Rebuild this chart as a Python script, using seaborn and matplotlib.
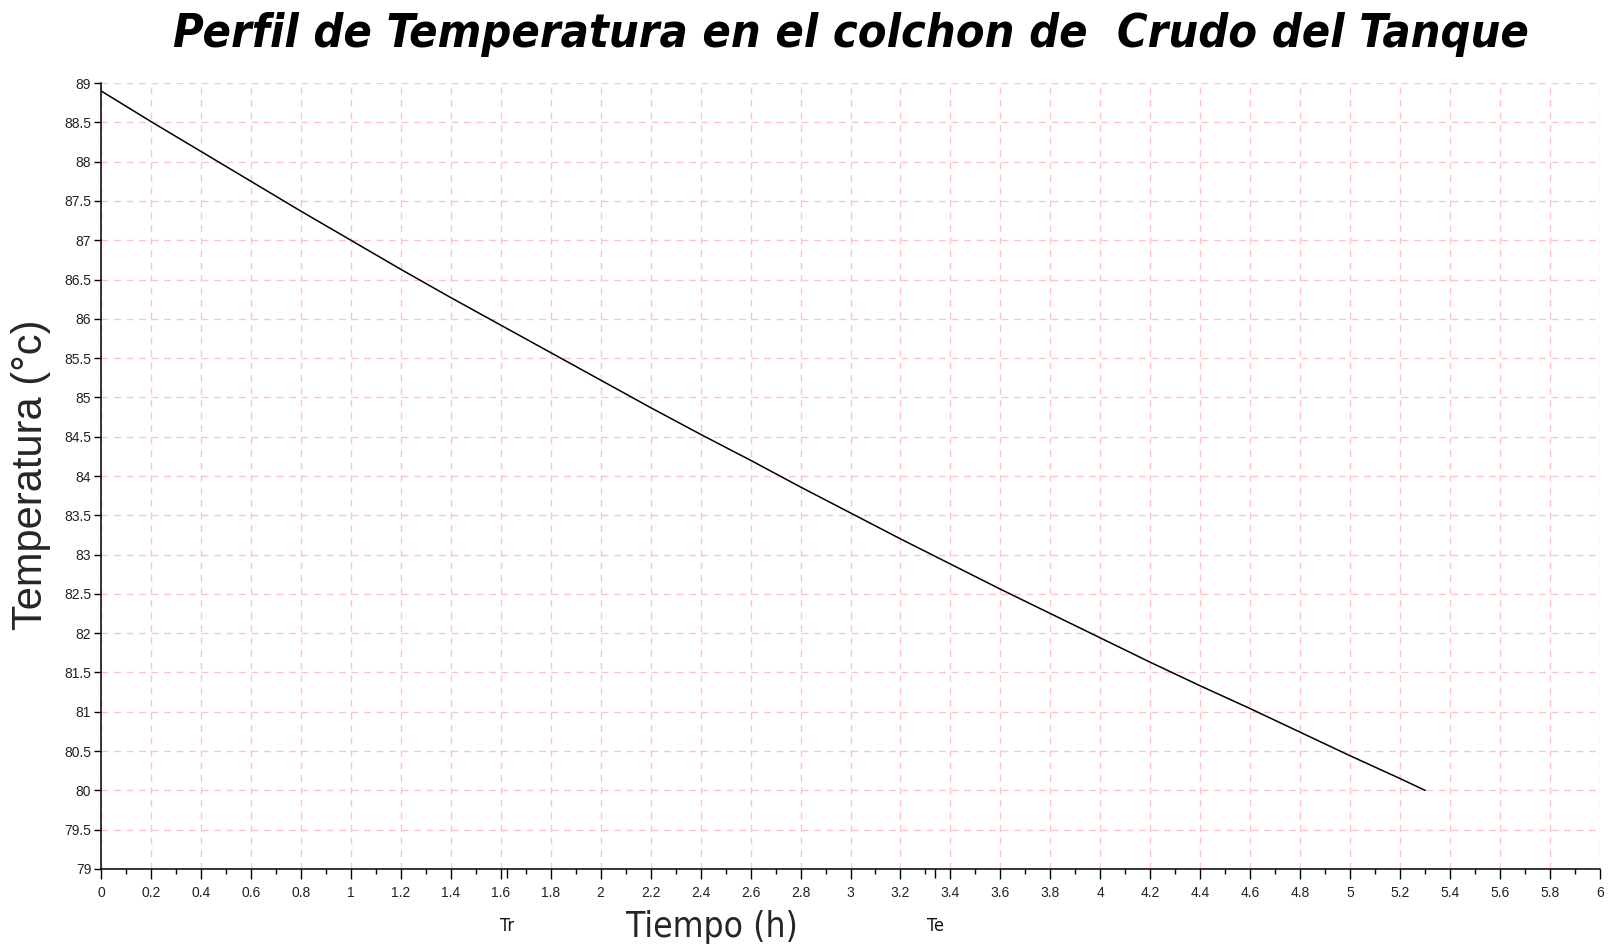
import matplotlib
matplotlib.use('Agg')
import matplotlib.pyplot as plt
from matplotlib import font_manager
from matplotlib.ticker import MultipleLocator, FormatStrFormatter
import pandas as pd
import seaborn as sns

# Data
tiempo = [0.0, 0.2, 0.4, 0.6, 0.8, 1.0, 1.2, 1.4, 1.6, 1.8, 2.0, 2.2, 2.4, 2.6,
          2.8, 3.0, 3.2, 3.4, 3.6, 3.8, 4.0, 4.2, 4.4, 4.6, 4.8, 5.0, 5.2, 5.3]
temperatura = [88.9, 88.51, 88.13, 87.75, 87.37, 87.0, 86.63, 86.27, 85.92, 85.57,
               85.22, 84.87, 84.53, 84.2, 83.86, 83.53, 83.2, 82.88, 82.56, 82.25,
               81.94, 81.63, 81.33, 81.04, 80.74, 80.44, 80.15, 80.0]
marcas_t = [1.625, 3.34]
marcas_lbl = ['Tr', 'Te']

df = pd.DataFrame({'Tiempo': tiempo, 'Temperatura': temperatura})

sns.set_style('white')
plt.rcParams['font.family'] = ['Liberation Sans', 'DejaVu Sans']

# look for a condensed face for the title / x label
fonts = font_manager.fontManager.ttflist
names = {f.name for f in fonts}
if 'Liberation Sans Narrow' in names:
    narrow, stretch, scale = 'Liberation Sans Narrow', 'normal', 1.0
elif any(f.name == 'DejaVu Sans' and f.stretch == 'condensed' for f in fonts):
    narrow, stretch, scale = 'DejaVu Sans', 'condensed', 0.82
else:
    narrow, stretch, scale = 'Liberation Sans', 'normal', 0.84

fig = plt.figure(figsize=(16.18, 9.52), dpi=100)
ax = fig.add_axes([0.0624, 0.0872, 0.9265, 0.8256])

sns.lineplot(data=df, x='Tiempo', y='Temperatura', ax=ax, color='black', linewidth=1.1, zorder=3)

ax.set_xlim(0, 6)
ax.set_ylim(79, 89)
ax.xaxis.set_major_locator(MultipleLocator(0.2))
ax.xaxis.set_minor_locator(MultipleLocator(0.1))
ax.yaxis.set_major_locator(MultipleLocator(0.5))
ax.xaxis.set_major_formatter(FormatStrFormatter('%g'))
ax.yaxis.set_major_formatter(FormatStrFormatter('%g'))

ax.grid(True, which='major', color='#ffc4c4', linestyle=(0, (5, 4)), linewidth=1.0, zorder=0)
ax.set_axisbelow(True)

for s in ['top', 'right']:
    ax.spines[s].set_visible(False)
for s in ['left', 'bottom']:
    ax.spines[s].set_color('black')
    ax.spines[s].set_linewidth(1.1)

ax.tick_params(axis='x', which='major', length=7, width=1.0, color='black',
               labelsize=10, labelcolor='#222222', pad=5, direction='out', bottom=True)
ax.tick_params(axis='x', which='minor', length=3.5, width=1.0, color='black', bottom=True)
ax.tick_params(axis='y', which='major', length=5, width=1.0, color='black',
               labelsize=10, labelcolor='#222222', pad=2, direction='out', left=True)

# extra ticks and labels for Tr / Te
ax.vlines(marcas_t, -0.012, 0, transform=ax.get_xaxis_transform(), color='black',
          linewidth=1.0, clip_on=False)
for t, lbl in zip(marcas_t, marcas_lbl):
    ax.text(t, -0.072, lbl, transform=ax.get_xaxis_transform(), ha='center', va='center',
            fontsize=13, family=[narrow, 'DejaVu Sans'], fontstretch=stretch, color='#111111')

ax.set_xlabel('')
ax.set_ylabel('')
fig.text(0.440, 0.026, 'Tiempo (h)', ha='center', va='center', fontsize=31 * scale,
         family=[narrow, 'DejaVu Sans'], fontstretch=stretch)
fig.text(0.019, 0.501, 'Temperatura (°c)', ha='center', va='center', fontsize=30,
         rotation=90)
fig.text(0.526, 0.964, 'Perfil de Temperatura en el colchon de  Crudo del Tanque',
         ha='center', va='center', fontsize=41 * scale, fontweight='bold', fontstyle='italic',
         family=[narrow, 'DejaVu Sans'], fontstretch=stretch, color='black')

fig.savefig('out.png', dpi=100)
